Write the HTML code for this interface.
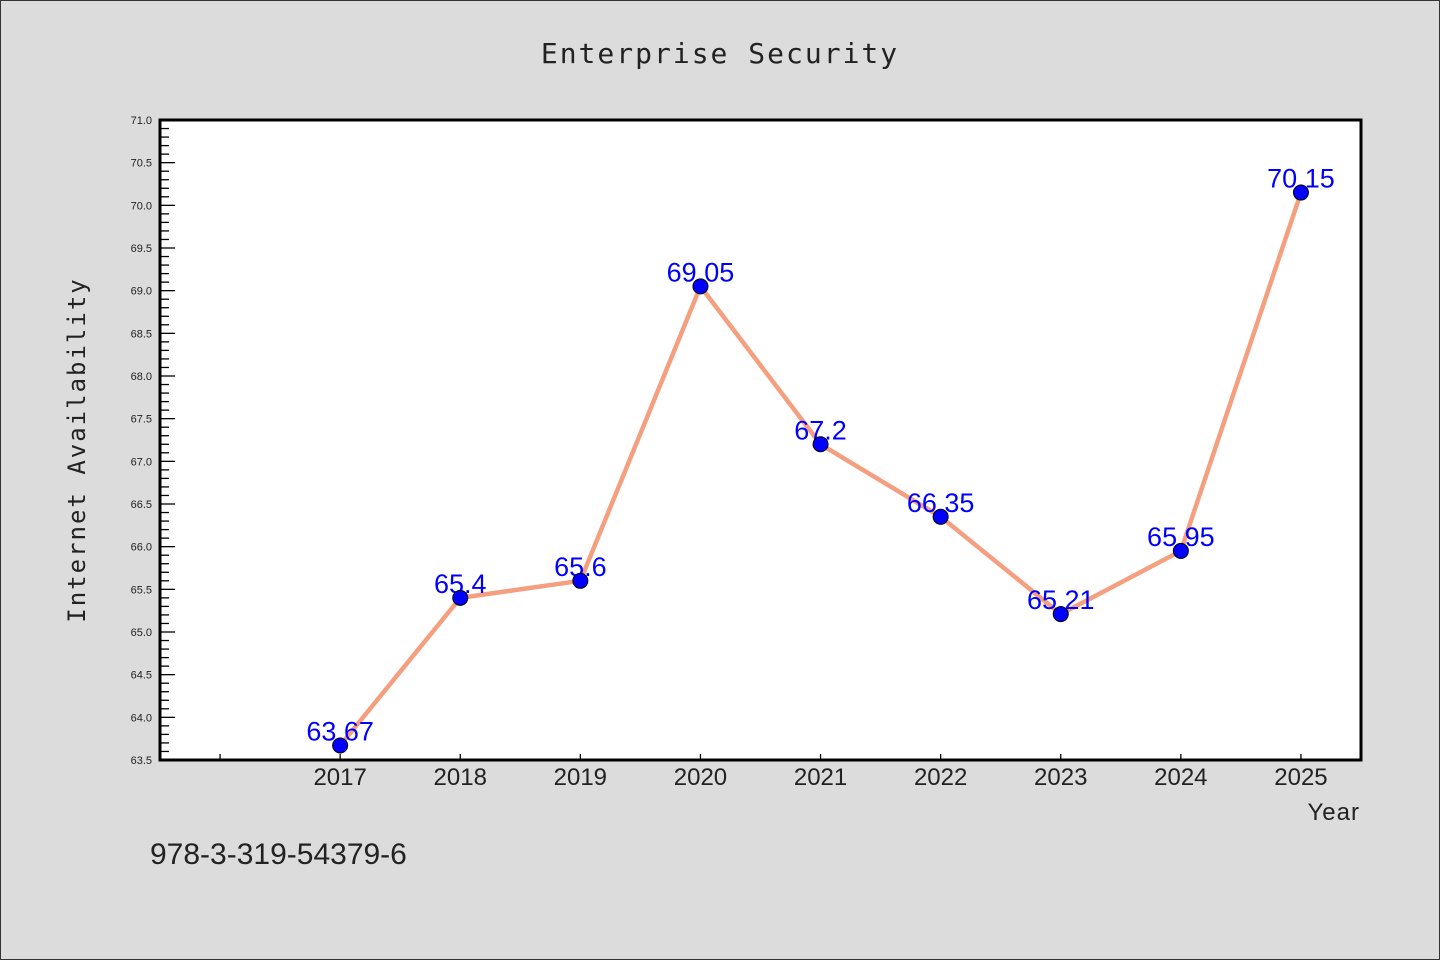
<!DOCTYPE html>
<html><head><meta charset="utf-8"><style>
html,body{margin:0;padding:0;background:#dcdcdc;}
svg{display:block;font-family:"Liberation Sans","DejaVu Sans",sans-serif;}
</style></head><body>
<svg id="chart" width="1440" height="960" viewBox="0 0 1440 960" xmlns="http://www.w3.org/2000/svg">
<rect x="0.5" y="0.5" width="1439" height="959" fill="#dcdcdc" stroke="#333" stroke-width="1"/>
<text x="720" y="63" text-anchor="middle" font-size="28" fill="#222" letter-spacing="2" font-family="DejaVu Sans Mono, Liberation Mono, monospace">Enterprise Security</text>
<rect x="160" y="120" width="1201" height="640" fill="#fff"/>
<g id="yaxis"></g>
<g id="xaxis"></g>
<g id="series"></g>
<rect x="160" y="120" width="1201" height="640" fill="none" stroke="#000" stroke-width="3"/>
<text transform="translate(85,450) rotate(-90)" text-anchor="middle" font-size="24" fill="#222" letter-spacing="2" font-family="DejaVu Sans Mono, Liberation Mono, monospace">Internet Availability</text>
<text x="1360" y="820" text-anchor="end" font-size="24" fill="#222" letter-spacing="1">Year</text>
<text x="150" y="864" font-size="30" fill="#222">978-3-319-54379-6</text>
</svg>
<script>
const years = [2017,2018,2019,2020,2021,2022,2023,2024,2025];
const values = [63.67,65.4,65.6,69.05,67.2,66.35,65.21,65.95,70.15];
const valueLabels = ["63.67","65.4","65.6","69.05","67.2","66.35","65.21","65.95","70.15"];
const yTicks = [63.5,64.0,64.5,65.0,65.5,66.0,66.5,67.0,67.5,68.0,68.5,69.0,69.5,70.0,70.5,71.0];
const xTicks = [2016,2017,2018,2019,2020,2021,2022,2023,2024,2025];

const NS="http://www.w3.org/2000/svg";
const X0=160,X1=1361,Y0=760,Y1=120;
const xMin=2015.5,xMax=2025.5,yMin=63.5,yMax=71.0;
function xs(v){return X0+(v-xMin)/(xMax-xMin)*(X1-X0);}
function ys(v){return Y0-(v-yMin)/(yMax-yMin)*(Y0-Y1);}
function mk(tag,parent,attrs){const e=document.createElementNS(NS,tag);for(const k in attrs)e.setAttribute(k,attrs[k]);parent.appendChild(e);return e;}

const ya=document.getElementById('yaxis');
for(let v=yMin;v<=yMax+1e-9;v+=0.1){
  const major=Math.abs(v*2-Math.round(v*2))<1e-6;
  const t=mk('line',ya,{x1:X0,x2:X0+(major?15:9),y1:ys(v),y2:ys(v),stroke:'#000','stroke-width':1.3});
  
  
}
yTicks.forEach(v=>{
  const t=mk('text',ya,{x:152,y:ys(v)+4,'text-anchor':'end','font-size':11,fill:'#222'});
  t.textContent=v.toFixed(1);
  
  
});
const xa=document.getElementById('xaxis');
xTicks.forEach(v=>{
  const t=mk('line',xa,{x1:xs(v),x2:xs(v),y1:Y0,y2:Y0-6,stroke:'#000','stroke-width':1.3});
  
  
});
years.forEach(v=>{
  const t=mk('text',xa,{x:xs(v),y:785,'text-anchor':'middle','font-size':24,fill:'#222'});
  t.textContent=String(v);
  
  
});
const s=document.getElementById('series');
const pts=years.map((y,i)=>xs(y)+','+ys(values[i])).join(' ');
const pl=mk('polyline',s,{points:pts,fill:'none',stroke:'#f4a080','stroke-width':4.5,'stroke-linejoin':'round'});


years.forEach((y,i)=>{
  const t=mk('text',s,{x:xs(y),y:ys(values[i])-5,'text-anchor':'middle','font-size':27,fill:'#0000ff'});
  t.textContent=valueLabels[i];
  
  
});
years.forEach((y,i)=>{
  const c=mk('circle',s,{cx:xs(y),cy:ys(values[i]),r:7.5,fill:'#0000ff',stroke:'#000','stroke-width':1});
  
  
});
</script>
</body></html>
